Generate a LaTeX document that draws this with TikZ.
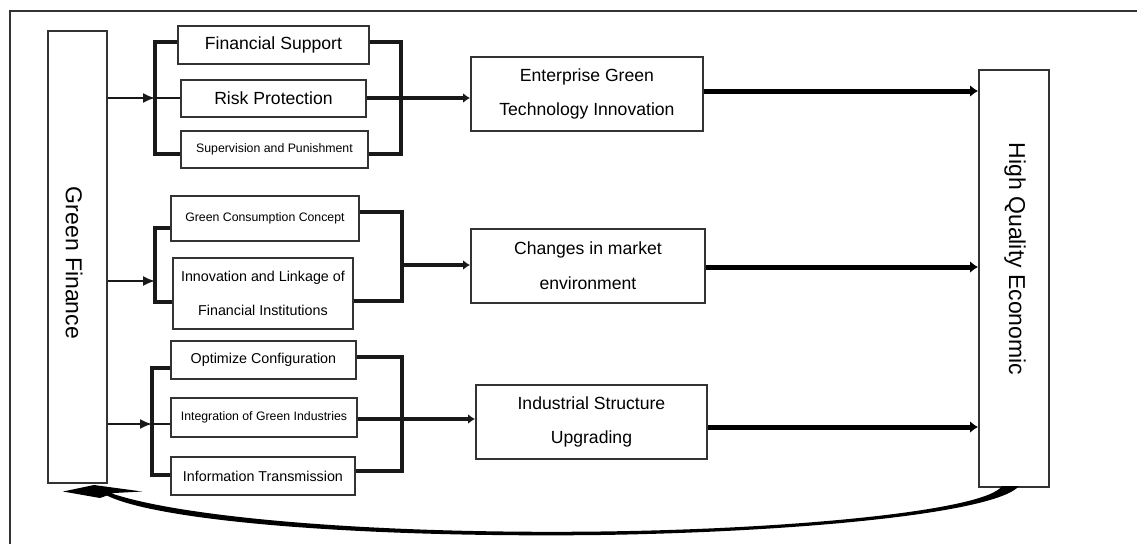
\documentclass[tikz,border=0pt]{standalone}
\usepackage{fontspec}
\setmainfont{Liberation Sans}
\usetikzlibrary{arrows.meta}
\begin{document}
\begin{tikzpicture}[x=1pt,y=-1pt,
  box/.style={draw=black!80, line width=1.9pt, inner sep=0pt, anchor=north west, align=center, fill=white},
  big/.style={font=\fontsize{17.6}{34.5}\selectfont},
  mid/.style={font=\fontsize{14.3}{34}\selectfont},
  small/.style={font=\fontsize{12.3}{15}\selectfont},
  vert/.style={font=\fontsize{23}{28}\selectfont, rotate=-90},
  feed/.style={draw=black!90, line width=1.8pt, -{Latex[length=12pt,width=10pt]}},
  bracket/.style={draw=black!90, line width=3.2pt},
  stub/.style={draw=black!90, line width=2.5pt},
  link/.style={draw=black!90, line width=3.2pt, -{Latex[length=7pt,width=10pt]}},
  mainarrow/.style={draw=black, line width=5pt, -{Latex[length=8pt,width=12pt]}},
]
\useasboundingbox (0,0) rectangle (1137,544);

% outer frame (top and left edges)
\draw[black!80, line width=1.6pt] (1137,11) -- (10,11) -- (10,544);

% end boxes
\node[box, minimum width=59pt, minimum height=452pt] (gf) at (47,30) {};
\node[vert] (gft) at (74,263) {Green Finance};
\node[box, minimum width=70pt, minimum height=417pt] (hq) at (978,69) {};
\node[vert] (hqt) at (1015,259) {High Quality Economic};

% channel 1
\node[box, big, minimum width=191pt, minimum height=38pt] (fs) at (177,25) {Financial Support};
\node[box, big, minimum width=185pt, minimum height=37pt] (rp) at (180,79) {Risk Protection};
\node[box, small, minimum width=187pt, minimum height=37pt] (sp) at (180,130) {Supervision and Punishment};
\node[box, big, minimum width=232pt, minimum height=74pt] (eg) at (470,56) {Enterprise Green\\Technology Innovation};

% channel 2
\node[box, small, minimum width=188pt, minimum height=45pt] (gc) at (170,195) {Green Consumption Concept};
\node[box, mid, minimum width=180pt, minimum height=71pt] (il) at (172,257) {Innovation and Linkage of\\Financial Institutions};
\node[box, big, minimum width=234pt, minimum height=74pt] (cm) at (470,228) {Changes in market\\environment};

% channel 3
\node[box, mid, minimum width=185pt, minimum height=38pt] (oc) at (170,340) {Optimize Configuration};
\node[box, small, minimum width=186pt, minimum height=39pt] (ig) at (170,397) {Integration of Green Industries};
\node[box, mid, minimum width=184pt, minimum height=38pt] (it) at (170,456) {Information Transmission};
\node[box, big, minimum width=231pt, minimum height=74pt] (is) at (475,384) {Industrial Structure\\Upgrading};

% channel 1 connectors
\draw[feed] (gf.east |- 0,98) -- (155,98);
\draw[stub] (155,98) -- (rp.west |- 0,98);
\draw[bracket] (fs.west |- 0,42) -| (155,154) -- (sp.west |- 0,154);
\draw[bracket] (fs.east |- 0,42) -| (401,154) -- (sp.east |- 0,154);
\draw[link] (rp.east |- 0,98) -- (eg.west |- 0,98);
\draw[mainarrow] (eg.east |- 0,91) -- (hq.west |- 0,91);

% channel 2 connectors
\draw[feed] (gf.east |- 0,281) -- (155,281);
\draw[bracket] (gc.west |- 0,228) -| (155,302) -- (il.west |- 0,302);
\draw[bracket] (gc.east |- 0,212) -| (402,301) -- (il.east |- 0,301);
\draw[link] (402,265) -- (cm.west |- 0,265);
\draw[mainarrow] (cm.east |- 0,267) -- (hq.west |- 0,267);

% channel 3 connectors
\draw[feed] (gf.east |- 0,424) -- (152,424);
\draw[stub] (152,424) -- (ig.west |- 0,424);
\draw[bracket] (oc.west |- 0,368) -| (152,475) -- (it.west |- 0,475);
\draw[bracket] (oc.east |- 0,357) -| (402,471) -- (it.east |- 0,471);
\draw[link] (ig.east |- 0,419) -- (is.west |- 0,419);
\draw[mainarrow] (is.east |- 0,427) -- (hq.west |- 0,427);

% feedback loop: tapered curve from the right box back to the left box
\fill[black]
  (1002,486) .. controls (986,510) and (800,529) .. (600,531.5)
  .. controls (350,534.5) and (152,514) .. (98,488)
  -- (104,494)
  .. controls (150,520) and (350,538) .. (600,535)
  .. controls (800,532) and (996,513) .. (1019,486) -- cycle;
\fill[black] (63,491.5) -- (94,485) -- (142,491.5) -- (114,493) -- (100,498) -- cycle;
\end{tikzpicture}
\end{document}
